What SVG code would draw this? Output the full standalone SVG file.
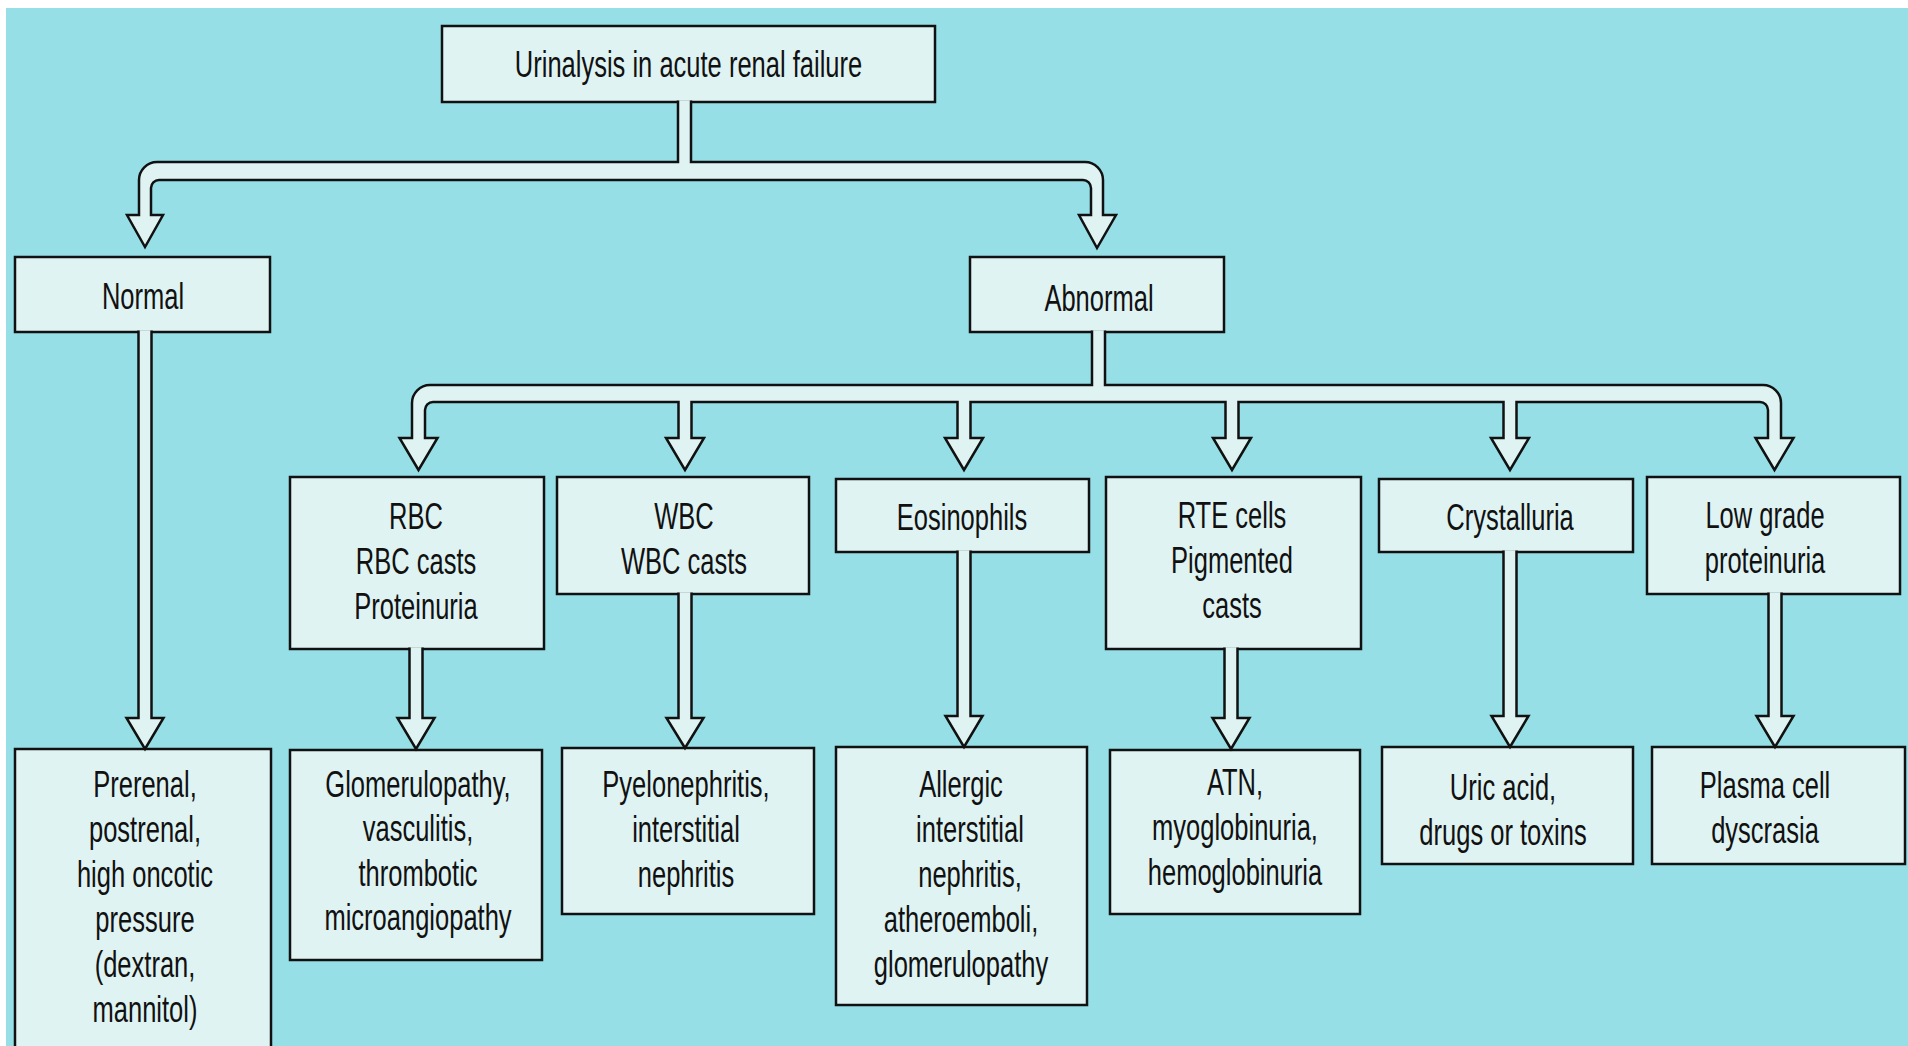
<svg xmlns="http://www.w3.org/2000/svg" width="1908" height="1046" viewBox="0 0 1908 1046">
<style>
.box{fill:#DFF3F3;stroke:#111;stroke-width:2.5}
.con{fill:#DFF3F3;stroke:#111;stroke-width:2.5;stroke-linejoin:miter}
.t{font-family:"Liberation Sans",Arial,sans-serif;font-size:37px;fill:#111;text-anchor:middle}
</style>
<rect x="0" y="0" width="1908" height="1046" fill="#FFFFFF"/>
<rect x="6" y="8" width="1902" height="1038" fill="#96DFE6"/>

<g id="n-top"><rect class="box" x="442" y="26" width="493" height="76"/>
<text class="t" transform="translate(688.5 0) scale(0.69 1)"><tspan x="0" y="77">Urinalysis in acute renal failure</tspan></text></g>

<g id="n-normal"><rect class="box" x="15" y="257" width="255" height="75"/>
<text class="t" transform="translate(143 0) scale(0.69 1)"><tspan x="0" y="309">Normal</tspan></text></g>

<g id="n-abnormal"><rect class="box" x="970" y="257" width="254" height="75"/>
<text class="t" transform="translate(1099 0) scale(0.69 1)"><tspan x="0" y="311">Abnormal</tspan></text></g>

<g id="n-rbc"><rect class="box" x="290" y="477" width="254" height="172"/>
<text class="t" transform="translate(416 0) scale(0.69 1)"><tspan x="0" y="529">RBC</tspan><tspan x="0" y="574">RBC casts</tspan><tspan x="0" y="619">Proteinuria</tspan></text></g>

<g id="n-wbc"><rect class="box" x="557" y="477" width="252" height="117"/>
<text class="t" transform="translate(684 0) scale(0.69 1)"><tspan x="0" y="529">WBC</tspan><tspan x="0" y="574">WBC casts</tspan></text></g>

<g id="n-eos"><rect class="box" x="836" y="479" width="253" height="73"/>
<text class="t" transform="translate(962 0) scale(0.69 1)"><tspan x="0" y="530">Eosinophils</tspan></text></g>

<g id="n-rte"><rect class="box" x="1106" y="477" width="255" height="172"/>
<text class="t" transform="translate(1232 0) scale(0.69 1)"><tspan x="0" y="528">RTE cells</tspan><tspan x="0" y="573">Pigmented</tspan><tspan x="0" y="618">casts</tspan></text></g>

<g id="n-cryst"><rect class="box" x="1379" y="479" width="254" height="73"/>
<text class="t" transform="translate(1510 0) scale(0.69 1)"><tspan x="0" y="530">Crystalluria</tspan></text></g>

<g id="n-low"><rect class="box" x="1647" y="477" width="253" height="117"/>
<text class="t" transform="translate(1765 0) scale(0.69 1)"><tspan x="0" y="528">Low grade</tspan><tspan x="0" y="573">proteinuria</tspan></text></g>

<g id="n-prerenal"><rect class="box" x="15" y="749" width="256" height="320"/>
<text class="t" transform="translate(145 0) scale(0.69 1)"><tspan x="0" y="797">Prerenal,</tspan><tspan x="0" y="842">postrenal,</tspan><tspan x="0" y="887">high oncotic</tspan><tspan x="0" y="932">pressure</tspan><tspan x="0" y="977">(dextran,</tspan><tspan x="0" y="1022">mannitol)</tspan></text></g>

<g id="n-glom"><rect class="box" x="290" y="750" width="252" height="210"/>
<text class="t" transform="translate(418 0) scale(0.69 1)"><tspan x="0" y="797">Glomerulopathy,</tspan><tspan x="0" y="841">vasculitis,</tspan><tspan x="0" y="886">thrombotic</tspan><tspan x="0" y="930">microangiopathy</tspan></text></g>

<g id="n-pyelo"><rect class="box" x="562" y="748" width="252" height="166"/>
<text class="t" transform="translate(686 0) scale(0.69 1)"><tspan x="0" y="797">Pyelonephritis,</tspan><tspan x="0" y="842">interstitial</tspan><tspan x="0" y="887">nephritis</tspan></text></g>

<g id="n-allergic"><rect class="box" x="836" y="747" width="251" height="258"/>
<text class="t" transform="translate(961 0) scale(0.69 1)"><tspan x="0" y="797">Allergic</tspan><tspan x="13" y="842">interstitial</tspan><tspan x="13" y="887">nephritis,</tspan><tspan x="0" y="932">atheroemboli,</tspan><tspan x="0" y="977">glomerulopathy</tspan></text></g>

<g id="n-atn"><rect class="box" x="1110" y="750" width="250" height="164"/>
<text class="t" transform="translate(1235 0) scale(0.69 1)"><tspan x="0" y="795">ATN,</tspan><tspan x="0" y="840">myoglobinuria,</tspan><tspan x="0" y="885">hemoglobinuria</tspan></text></g>

<g id="n-uric"><rect class="box" x="1382" y="747" width="251" height="117"/>
<text class="t" transform="translate(1503 0) scale(0.69 1)"><tspan x="0" y="800">Uric acid,</tspan><tspan x="0" y="845">drugs or toxins</tspan></text></g>

<g id="n-plasma"><rect class="box" x="1652" y="747" width="253" height="117"/>
<text class="t" transform="translate(1765 0) scale(0.69 1)"><tspan x="0" y="798">Plasma cell</tspan><tspan x="0" y="843">dyscrasia</tspan></text></g>

<g id="connectors">
<path class="con" d="M 678 100.5 V 162 H 157 A 18 18 0 0 0 139 180 V 215 H 127 L 145 247 L 163 215 H 151 V 188 A 8 8 0 0 1 159 180 H 1083 A 8 8 0 0 1 1091 188 V 215 H 1079 L 1097 248 L 1116 215 H 1103 V 180 A 18 18 0 0 0 1085 162 H 691 V 100.5"/>
<path class="con" d="M 1092 330.5 V 385 H 430 A 18 18 0 0 0 412 403 V 438 H 399.5 L 418.5 470 L 437.5 438 H 425 V 410 A 8 8 0 0 1 433 402 H 678.5 V 438 H 666 L 685 470 L 704 438 H 691.5 V 402 H 957.5 V 438 H 945 L 964 470 L 983 438 H 970.5 V 402 H 1225.5 V 438 H 1213 L 1232 470 L 1251 438 H 1238.5 V 402 H 1503.5 V 438 H 1491 L 1510 470 L 1529 438 H 1516.5 V 402 H 1760 A 8 8 0 0 1 1768 410 V 438 H 1755.5 L 1774.5 470 L 1793.5 438 H 1781 V 403 A 18 18 0 0 0 1763 385 H 1105 V 330.5"/>
<path class="con" d="M 138.5 330.5 V 718 H 126.5 L 145 749 L 163.5 718 H 151.5 V 330.5"/>
<path class="con" d="M 409.5 647.5 V 718 H 397.5 L 416 749 L 434.5 718 H 422.5 V 647.5"/>
<path class="con" d="M 678.5 592.5 V 718 H 666.5 L 685 748 L 703.5 718 H 691.5 V 592.5"/>
<path class="con" d="M 957.5 550.5 V 716 H 945.5 L 964 747 L 982.5 716 H 970.5 V 550.5"/>
<path class="con" d="M 1224.5 647.5 V 718 H 1212.5 L 1231 749 L 1249.5 718 H 1237.5 V 647.5"/>
<path class="con" d="M 1503.5 550.5 V 716 H 1491.5 L 1510 747 L 1528.5 716 H 1516.5 V 550.5"/>
<path class="con" d="M 1768.5 592.5 V 716 H 1756.5 L 1775 747 L 1793.5 716 H 1781.5 V 592.5"/>
</g>
</svg>
